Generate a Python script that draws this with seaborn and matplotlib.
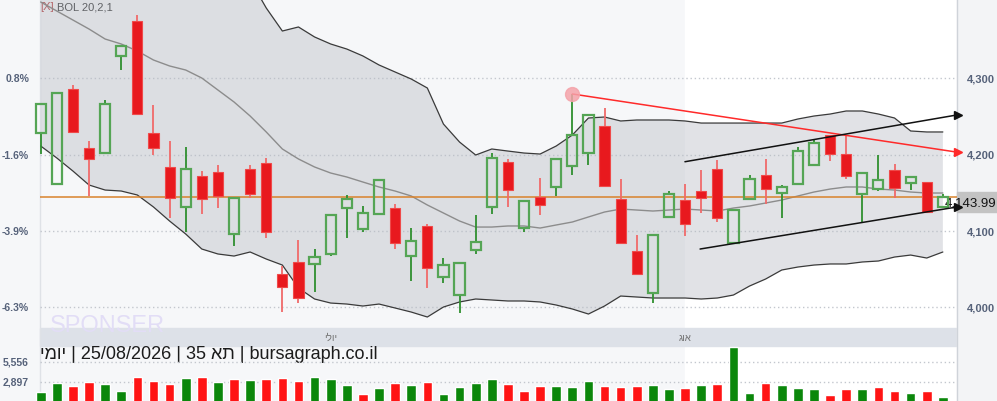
import numpy as np
import pandas as pd
import seaborn as sns
import matplotlib.pyplot as plt
from matplotlib.patches import Rectangle
from matplotlib.transforms import blended_transform_factory


# TA-35 daily candles (index points)
opens = [4228.4, 4162.0, 4286.1, 4208.8, 4202.2, 4329.4, 4375.2, 4228.4, 4183.9, 4131.1,
         4172.1, 4177.3, 4096.1, 4181.3, 4189.1, 4043.6, 4059.4, 4057.1, 4069.9, 4130.1,
         4102.6, 4122.3, 4130.1, 4067.2, 4106.6, 4039.3, 4015.7, 4075.1, 4131.9, 4190.4,
         4103.9, 4144.6, 4157.7, 4185.2, 4202.2, 4237.6, 4141.9, 4073.8, 4018.7, 4118.4,
         4140.6, 4152.4, 4181.3, 4084.3, 4142.3, 4173.4, 4149.8, 4162.0, 4186.5, 4225.8,
         4200.9, 4148.9, 4155.0, 4180.0, 4163.3, 4164.2, 4131.5]
closes = [4266.8, 4280.9, 4230.1, 4194.8, 4266.8, 4342.9, 4253.7, 4209.2, 4143.6, 4181.7,
          4142.3, 4146.3, 4143.6, 4148.9, 4098.3, 4027.0, 4012.6, 4066.3, 4121.4, 4142.3,
          4124.0, 4167.2, 4084.7, 4087.3, 4051.5, 4055.8, 4058.5, 4086.0, 4196.1, 4154.1,
          4139.7, 4134.5, 4194.0, 4226.2, 4252.4, 4159.4, 4084.7, 4044.0, 4095.2, 4148.9,
          4109.6, 4143.6, 4116.6, 4127.9, 4168.5, 4155.4, 4158.1, 4205.2, 4215.7, 4201.3,
          4171.7, 4176.4, 4167.2, 4156.0, 4170.8, 4125.3, 4143.99]
highs = [4266.8, 4280.9, 4291.0, 4218.0, 4271.7, 4342.9, 4383.5, 4265.1, 4218.0, 4210.1,
         4178.6, 4186.5, 4143.6, 4186.5, 4195.3, 4054.5, 4088.2, 4076.4, 4121.4, 4147.2,
         4132.8, 4167.2, 4135.4, 4103.5, 4109.2, 4064.2, 4058.5, 4121.0, 4201.8, 4194.4,
         4139.7, 4169.5, 4194.0, 4279.6, 4252.4, 4261.2, 4168.2, 4094.8, 4095.2, 4152.4,
         4161.6, 4180.0, 4193.1, 4127.9, 4173.4, 4194.4, 4160.3, 4210.1, 4218.9, 4225.8,
         4225.8, 4176.4, 4200.0, 4187.4, 4170.8, 4164.2, 4148.5]
lows = [4200.9, 4162.0, 4230.1, 4146.3, 4202.2, 4311.4, 4253.7, 4200.0, 4117.4, 4098.3,
        4122.7, 4130.5, 4080.7, 4143.6, 4091.2, 3994.2, 4006.0, 4020.4, 4067.6, 4091.2,
        4099.1, 4122.3, 4076.4, 4034.9, 4025.3, 4032.2, 3992.5, 4069.9, 4122.3, 4131.9,
        4099.1, 4121.0, 4146.3, 4173.8, 4186.5, 4159.4, 4084.7, 4044.0, 4005.2, 4118.4,
        4093.8, 4124.0, 4112.2, 4084.3, 4142.3, 4135.4, 4116.6, 4162.0, 4186.5, 4192.1,
        4168.2, 4112.2, 4152.0, 4143.6, 4154.1, 4123.2, 4131.5]
volumes = [1567, 2724, 2325, 2857, 2591, 1660, 3522, 2990, 2591, 3389,
           3522, 2857, 3256, 3123, 3256, 3389, 2990, 3522, 3256, 2458,
           1261, 2059, 2764, 2498, 2897, 1301, 2192, 2764, 3296, 2631,
           1700, 2365, 2365, 2232, 3030, 2365, 2232, 2365, 2498, 1966,
           2099, 2498, 2631, 7552, 1434, 2764, 2498, 2099, 1966, 1168,
           1966, 1966, 2232, 1700, 1434, 1700, 902]

# Bollinger 20,2 (upper part runs off the top of the chart early on)
bb_upper = [4588.9, 4581.0, 4574.4, 4569.2, 4549.5, 4537.7, 4524.6, 4516.8, 4519.4, 4525.9,
            4524.6, 4499.7, 4470.9, 4429.0, 4392.3, 4362.1, 4367.4, 4354.3, 4345.1, 4338.5,
            4329.4, 4317.6, 4308.4, 4299.2, 4287.4, 4240.2, 4216.6, 4199.6, 4207.5, 4204.8,
            4202.2, 4200.9, 4211.4, 4225.8, 4248.1, 4249.4, 4244.2, 4245.5, 4245.5, 4245.5,
            4244.2, 4241.5, 4241.5, 4241.5, 4241.5, 4241.5, 4241.5, 4246.8, 4250.7, 4253.3,
            4257.3, 4257.3, 4253.3, 4248.1, 4231.1, 4229.8, 4229.8]
bb_mid = [4400.1, 4388.3, 4376.5, 4364.7, 4351.6, 4345.1, 4335.9, 4324.1, 4316.3, 4311.0,
          4300.5, 4284.8, 4269.1, 4250.7, 4229.8, 4207.5, 4194.4, 4183.9, 4176.0, 4170.8,
          4164.2, 4157.7, 4152.4, 4145.9, 4134.1, 4123.6, 4113.1, 4105.2, 4105.2, 4106.6,
          4106.6, 4103.9, 4107.9, 4111.8, 4118.4, 4124.9, 4128.8, 4127.5, 4126.2, 4127.5,
          4128.8, 4127.5, 4126.2, 4130.1, 4132.8, 4136.7, 4140.6, 4145.9, 4151.1, 4155.0,
          4157.7, 4157.7, 4155.0, 4153.7, 4151.1, 4149.8, 4149.8]
bb_lower = [4211.4, 4195.7, 4178.6, 4160.3, 4153.7, 4152.4, 4147.2, 4131.5, 4113.1, 4096.1,
            4076.4, 4069.9, 4067.2, 4072.5, 4063.3, 4055.4, 4025.3, 4010.9, 4005.6, 4004.3,
            4001.7, 4004.3, 3999.1, 3993.8, 3987.3, 4000.4, 4007.0, 4010.9, 4009.6, 4008.3,
            4008.3, 4007.0, 4003.0, 3997.8, 3991.2, 4001.7, 4014.8, 4013.5, 4012.2, 4012.2,
            4012.2, 4010.9, 4012.2, 4016.1, 4027.9, 4037.1, 4048.9, 4052.8, 4055.4, 4056.8,
            4056.8, 4059.4, 4060.7, 4065.9, 4068.5, 4064.6, 4072.5]

# drawn trend lines (candle index, price)
red_line_x = [33, 56.96]
red_line_y = [4279.6, 4203.1]
chan_top_x = [39.99, 56.96]
chan_top_y = [4190.8, 4252.4]
chan_bot_x = [40.93, 56.96]
chan_bot_y = [4076.4, 4131.8]

price_ticks = [4300, 4200, 4100, 4000]
price_labels = ['4,300', '4,200', '4,100', '4,000']
pct_labels = ['0.8%', '-1.6%', '-3.9%', '-6.3%']
vol_ticks = [5556, 2897]
vol_labels = ['5,556', '2,897']
month_pos = [18, 40]
month_labels = ['ילוי', 'גוא']   # יולי / אוג in visual order
caption = 'ימוי | 25/08/2026 | 35 את | bursagraph.co.il'
last_price = closes[-1]

sns.set_style('white')
plt.rcParams['font.family'] = ['Liberation Sans', 'DejaVu Sans']

W, H = 997, 402
X0, STEP = 40.7, 16.11          # pixel centre of first candle and candle spacing
GREEN, GREEN_WICK = '#55a555', '#2f8f2f'
RED, RED_WICK = '#e8191e', '#f06a6a'
LABEL = '#56627a'

fig = plt.figure(figsize=(W / 100, H / 100), dpi=100)

# background layer in pixel coordinates
bg = fig.add_axes([0, 0, 1, 1])
bg.set_xlim(0, W)
bg.set_ylim(H, 0)
bg.axis('off')
bg.add_patch(Rectangle((0, 0), W, H, color='#f6f7f9', zorder=0))
bg.add_patch(Rectangle((685, 0), 272, H, color='white', zorder=1))
bg.add_patch(Rectangle((40, 329), 917, 18, color='#dde1e8', zorder=2))
bg.add_patch(Rectangle((957, 0), 40, H, color='#f3f4f6', zorder=2))
bg.plot([957, 957], [0, H], color='#cfd3d9', lw=1, zorder=3)
bg.plot([39.5, 39.5], [0, H], color='#dfe2e7', lw=1, zorder=3)
bg.add_patch(Rectangle((957, 193), 40, 20, color='#c3c3c3', zorder=4))
bg.text(996, 204, '4,143.99', ha='right', va='center', fontsize=9.5, color='#111', zorder=5)
bg.text(40, 7, '[X]', ha='left', va='center', fontsize=8, color='#b02a2a', zorder=5)
bg.text(57, 7, 'BOL 20,2,1', ha='left', va='center', fontsize=8, color='#222', zorder=5)
bg.text(50, 326, 'SPONSER', ha='left', va='center', fontsize=17, color='#e2ddf6', zorder=5)
bg.text(40, 355, caption, ha='left', va='center', fontsize=13, color='#1c1c1c', zorder=5)
for pos, lab in zip(month_pos, month_labels):
    bg.text(X0 + STEP * pos, 338, lab, ha='center', va='center', fontsize=7, color='#707070', zorder=5)

xlim = ((0 - X0) / STEP, (W - X0) / STEP)
grid_a, grid_b = (40 - X0) / STEP, (955 - X0) / STEP
idx = np.arange(len(closes))

# price panel
ax = fig.add_axes([0, 73 / H, 1, 329 / H])
ax.set_facecolor('none')
ax.hlines(price_ticks, grid_a, grid_b, colors='#c3c7ce', linestyles=(0, (1, 2)), lw=1, zorder=1)
ax.fill_between(idx, bb_lower, bb_upper, color='#b8bcc4', alpha=0.42, lw=0, zorder=2)
sns.lineplot(x=idx, y=bb_upper, ax=ax, color='#3a3a3a', lw=0.9, zorder=3)
sns.lineplot(x=idx, y=bb_lower, ax=ax, color='#3a3a3a', lw=0.9, zorder=3)
sns.lineplot(x=idx, y=bb_mid, ax=ax, color='#8c8c8c', lw=1.0, zorder=3)
ax.hlines(last_price, grid_a, (957 - X0) / STEP, colors='#d9822b', lw=1.1, zorder=4)

o, c, h, l = map(np.array, (opens, closes, highs, lows))
up = c >= o
top, bot = np.maximum(o, c), np.minimum(o, c)
ax.vlines(idx[up], top[up], h[up], colors=GREEN_WICK, lw=1.3, zorder=5)
ax.vlines(idx[up], l[up], bot[up], colors=GREEN_WICK, lw=1.3, zorder=5)
ax.vlines(idx[~up], top[~up], h[~up], colors=RED_WICK, lw=1.3, zorder=5)
ax.vlines(idx[~up], l[~up], bot[~up], colors=RED_WICK, lw=1.3, zorder=5)
ax.bar(idx[up], (top - bot)[up], bottom=bot[up], width=0.63, facecolor='none',
       edgecolor=GREEN, lw=1.6, zorder=6)
ax.bar(idx[~up], (top - bot)[~up], bottom=bot[~up], width=0.63, facecolor=RED,
       edgecolor='#ef4a4a', lw=0.8, zorder=6)

ax.plot(red_line_x, red_line_y, color='#ff2a2a', lw=1.1, zorder=7)
ax.plot(chan_top_x, chan_top_y, color='#111', lw=1.1, zorder=7)
ax.plot(chan_bot_x, chan_bot_y, color='#111', lw=1.1, zorder=7)
ax.plot(red_line_x[-1], red_line_y[-1], marker='>', ms=6, color='#ff2a2a', zorder=8, clip_on=False)
ax.plot(chan_top_x[-1], chan_top_y[-1], marker='>', ms=6, color='#111', zorder=8, clip_on=False)
ax.plot(chan_bot_x[-1], chan_bot_y[-1], marker='>', ms=6, color='#111', zorder=8, clip_on=False)
ax.plot(red_line_x[0], red_line_y[0], 'o', ms=10, color='#f4a3aa', alpha=0.85, zorder=8)

tr = blended_transform_factory(fig.transFigure, ax.transData)
for val, lab, pct in zip(price_ticks, price_labels, pct_labels):
    ax.text(967 / W, val, lab, transform=tr, ha='left', va='center', fontsize=8,
            fontweight='bold', color=LABEL)
    ax.text(29 / W, val, pct, transform=tr, ha='right', va='center', fontsize=7.5,
            fontweight='bold', color=LABEL)
ax.set_xlim(*xlim)
ax.set_ylim(3972.9, 4404.06)
ax.axis('off')

# volume panel
axv = fig.add_axes([0, 0, 1, 55 / H])
axv.set_facecolor('none')
vol_dir = ['up'] + ['up' if c[i] >= c[i - 1] else 'down' for i in range(1, len(c))]
vol_df = pd.DataFrame({'i': idx, 'volume': volumes, 'dir': vol_dir})
axv.hlines(vol_ticks, grid_a, grid_b, colors='#c3c7ce', linestyles=(0, (1, 2)), lw=1, zorder=0)
sns.barplot(data=vol_df, x='i', y='volume', hue='dir', palette={'up': '#0b870b', 'down': '#ff1414'},
            native_scale=True, dodge=False, width=0.6, saturation=1, legend=False,
            errorbar=None, ax=axv, zorder=2)
trv = blended_transform_factory(fig.transFigure, axv.transData)
for val, lab in zip(vol_ticks, vol_labels):
    axv.text(29 / W, val, lab, transform=trv, ha='right', va='center', fontsize=7.5,
             fontweight='bold', color=LABEL)
axv.set_xlim(*xlim)
axv.set_ylim(330, 7645)
axv.axis('off')

fig.savefig('out.png', dpi=100)
